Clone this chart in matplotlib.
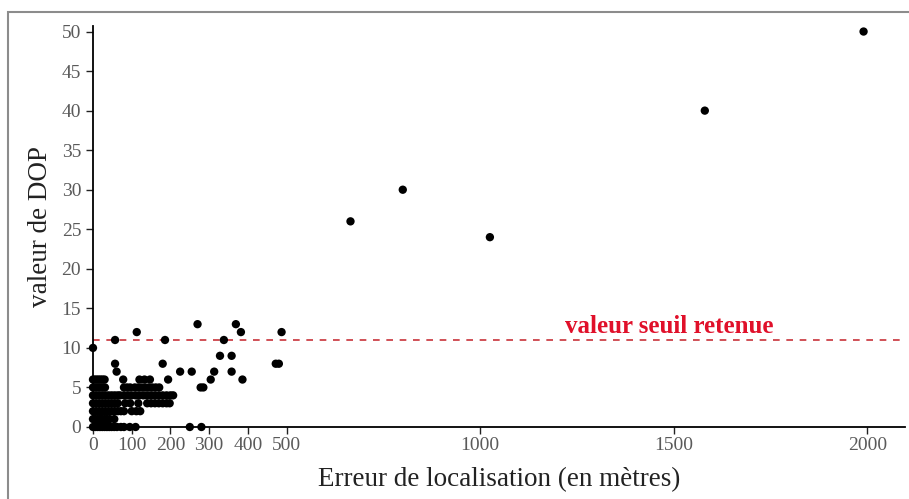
from matplotlib import pyplot as plt
from matplotlib.patches import Rectangle

# localisation error (m) and DOP value of each fix, grouped by DOP row
dop_rows = {
    0: [0, 6, 12, 18, 24, 30, 36, 42, 48, 55, 62, 72, 80, 95, 110, 250, 280],
    1: [0, 6, 12, 18, 24, 30, 36, 43, 55],
    2: [0, 8, 16, 24, 32, 40, 48, 56, 64, 72, 80, 100, 112, 122],
    3: [0, 8, 16, 24, 32, 40, 48, 56, 64, 83, 96, 117, 140, 150, 160, 170,
        180, 190, 198],
    4: [0, 8, 16, 24, 32, 40, 48, 56, 64, 70, 80, 90, 100, 110, 120, 130,
        140, 150, 160, 170, 180, 190, 200, 207],
    5: [0, 6, 12, 18, 25, 31, 80, 88, 96, 108, 117, 126, 135, 144, 153, 162,
        171, 278, 285],
    6: [0, 5, 10, 15, 20, 25, 30, 78, 120, 133, 147, 194, 304, 386],
    7: [61, 225, 255, 313, 358],
    8: [57, 180, 472, 480],
    9: [328, 358],
    10: [0],
    11: [57, 186, 338],
    12: [113, 382, 487],
    13: [270, 369],
}
far_err = [665, 800, 1025, 1580, 1990]
far_dop = [26, 30, 24, 40, 50]

seuil = 11
x_ticks = [0, 100, 200, 300, 400, 500, 1000, 1500, 2000]
y_ticks = [0, 5, 10, 15, 20, 25, 30, 35, 40, 45, 50]

erreur = []
dop = []
for val, xs in dop_rows.items():
    erreur += xs
    dop += [val] * len(xs)
erreur += far_err
dop += far_dop

plt.rcParams['font.family'] = ['Liberation Serif', 'DejaVu Serif']

fig = plt.figure(figsize=(9.09, 4.99), dpi=100)
ax = fig.add_axes([0.1023, 0.1443, 0.8933, 0.8036])

# grey frame round the figure
fig.patches.append(Rectangle((8 / 909, -0.05), 1.2, 1 - 12 / 499 + 0.05,
                             transform=fig.transFigure, fill=False,
                             edgecolor='#8c8c8c', linewidth=1.5))

ax.scatter(erreur, dop, s=36, color='black', edgecolors='none',
           clip_on=False, zorder=3)

# threshold line
ax.axhline(seuil, color='#c8323a', linestyle=(0, (4, 4)), linewidth=1.2)
ax.text(1218, seuil + 0.2, 'valeur seuil retenue', color='#e0102a',
        fontsize=18, fontweight='bold', va='bottom', ha='left')

ax.set_xlim(0, 2097)
ax.set_ylim(0, 50.7)
ax.set_xticks(x_ticks)
ax.set_yticks(y_ticks)
ax.tick_params(axis='both', colors='#222222', labelcolor='#5a5a5a',
               labelsize=14, length=5, width=1)
ax.tick_params(axis='x', pad=2)

for side in ['top', 'right']:
    ax.spines[side].set_visible(False)
for side in ['left', 'bottom']:
    ax.spines[side].set_linewidth(1.3)

ax.set_xlabel('Erreur de localisation (en mètres)', fontsize=19.5,
              color='#222222', labelpad=10)
ax.set_ylabel('valeur de DOP', fontsize=19.5, color='#222222', labelpad=6)

fig.savefig('out.png', dpi=100)
